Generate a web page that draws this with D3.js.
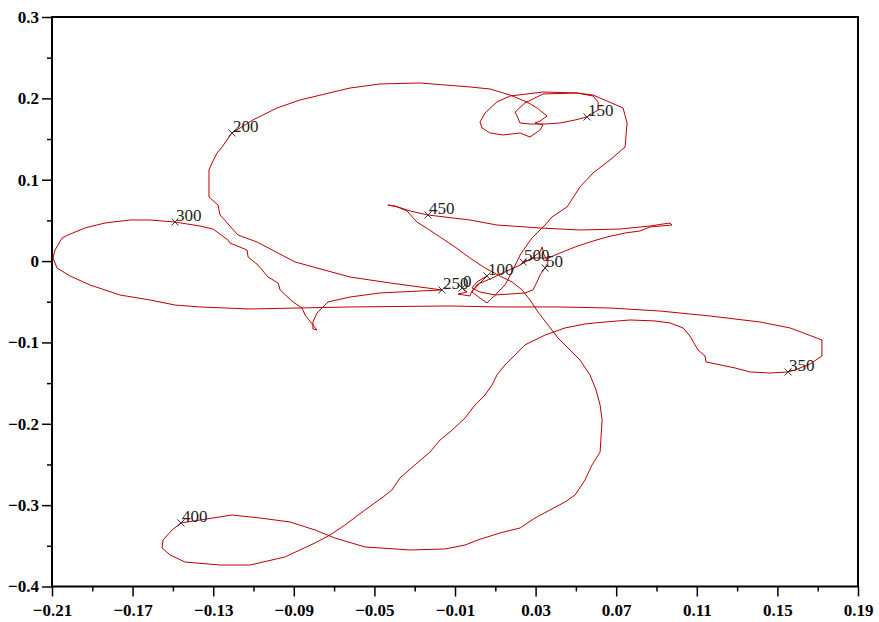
<!DOCTYPE html>
<html>
<head>
<meta charset="utf-8">
<script src="https://cdn.jsdelivr.net/npm/d3@7"></script>
<style>
  body { margin: 0; background: #fff; }
  svg { display: block; }
  .tick text { font-family: "Liberation Serif", "Times New Roman", serif; font-weight: bold; font-size: 17px; fill: #000; }
  .tick line { stroke: #000; stroke-width: 1.5; }
</style>
</head>
<body>
<div class="container"></div>
<script>
// trajectory samples, in order (x, y)
var pathX = [
  // 0 -> 50
  -0.0065,-0.0040,-0.0085,-0.0026,-0.0016,0.0014,0.0074,0.0148,0.0223,0.0282,0.0322,0.0332,0.0342,0.0362,0.0347,
  // 50 -> 100
  0.0322,0.0307,0.0287,0.0247,0.0173,0.0099,0.0024,-0.0016,0.0009,0.0059,
  // 100 -> 150
  0.0014,-0.0016,0.0024,0.0059,0.0099,0.0148,0.0183,0.0223,0.0282,0.0347,0.0381,0.0456,0.0520,0.0585,0.0669,
  0.0744,0.0754,0.0734,0.0585,0.0505,0.0337,0.0247,0.0198,0.0208,0.0223,0.0272,0.0347,0.0421,0.0496,0.0555,
  // 150 -> 200
  0.0610,0.0610,0.0585,0.0505,0.0337,0.0173,0.0108,0.0049,0.0024,0.0034,0.0074,0.0138,0.0223,0.0272,0.0322,0.0337,
  0.0297,0.0322,0.0357,0.0307,0.0257,0.0173,0.0074,-0.0026,-0.0274,-0.0472,-0.0621,-0.0869,-0.0983,-0.1103,-0.1207,
  // 200 -> 250
  -0.1256,-0.1281,-0.1306,-0.1321,-0.1321,-0.1276,-0.1266,-0.1177,-0.1083,-0.0894,-0.0621,-0.0423,-0.0274,-0.0165,
  // 250 -> 300
  -0.0274,-0.0373,-0.0472,-0.0621,-0.0730,-0.0745,-0.0785,-0.0805,-0.0805,-0.0785,-0.0805,-0.0844,-0.0859,
  -0.0904,-0.0968,-0.0978,-0.1028,-0.1078,-0.1127,-0.1132,-0.1217,-0.1227,-0.1301,-0.1366,-0.1490,
  // 300 -> 350
  -0.1614,-0.1713,-0.1837,-0.1936,-0.2021,-0.2050,-0.2085,-0.2095,-0.2075,-0.2011,-0.1911,-0.1763,-0.1614,-0.1490,-0.1366,
  -0.1117,-0.0621,-0.0125,0.0123,0.0421,0.0669,0.0917,0.1166,0.1414,0.1563,0.1721,0.1721,0.1662,0.1587,0.1553,
  // 350 -> 400
  0.1463,0.1364,0.1290,0.1146,0.1141,0.1106,0.1066,0.1032,0.0967,0.0893,0.0769,0.0644,0.0545,0.0446,0.0347,
  0.0247,0.0198,0.0148,0.0108,0.0084,0.0049,-0.0001,-0.0050,-0.0125,-0.0174,-0.0224,-0.0299,-0.0373,-0.0413,
  -0.0457,-0.0547,-0.0646,-0.0720,-0.0795,-0.0944,-0.1117,-0.1266,-0.1440,-0.1514,-0.1554,-0.1549,-0.1504,-0.1460,
  // 400 -> 450
  -0.1366,-0.1207,-0.1068,-0.0919,-0.0795,-0.0696,-0.0547,-0.0323,-0.0150,-0.0050,0.0014,0.0123,0.0223,0.0297,0.0371,
  0.0446,0.0496,0.0545,0.0580,0.0620,0.0630,0.0620,0.0600,0.0570,0.0520,0.0471,0.0411,0.0362,0.0312,0.0272,
  0.0233,0.0183,0.0123,0.0049,-0.0026,-0.0100,-0.0174,-0.0234,-0.0289,-0.0338,-0.0398,-0.0433,-0.0383,-0.0323,-0.0234,
  // 450 -> 500
  -0.0026,0.0108,0.0322,0.0520,0.0719,0.0868,0.0967,0.0977,0.0868,0.0818,0.0744,0.0654,0.0570,0.0496,0.0421,0.0362,0.0297,0.0238
];
var pathY = [
  -0.0331,-0.0380,-0.0405,-0.0429,-0.0368,-0.0282,-0.0220,-0.0134,-0.0048,0.0038,0.0112,0.0173,0.0075,-0.0011,-0.0085,
  -0.0171,-0.0257,-0.0355,-0.0392,-0.0405,-0.0417,-0.0380,-0.0331,-0.0257,-0.0183,
  -0.0294,-0.0380,-0.0454,-0.0515,-0.0417,-0.0294,-0.0134,0.0075,0.0284,0.0443,0.0542,0.0665,0.0910,0.1083,0.1242,
  0.1402,0.1697,0.1882,0.2041,0.2066,0.2054,0.1943,0.1832,0.1783,0.1697,0.1685,0.1685,0.1697,0.1734,0.1771,
  0.1857,0.1955,0.2029,0.2066,0.2078,0.2029,0.1955,0.1820,0.1709,0.1636,0.1574,0.1550,0.1574,0.1525,0.1611,0.1673,
  0.1697,0.1722,0.1783,0.1882,0.1955,0.2041,0.2115,0.2140,0.2189,0.2177,0.2127,0.1980,0.1882,0.1734,0.1574,
  0.1402,0.1328,0.1206,0.1120,0.0788,0.0689,0.0566,0.0320,0.0235,-0.0011,-0.0196,-0.0269,-0.0319,-0.0355,
  -0.0368,-0.0380,-0.0392,-0.0442,-0.0503,-0.0540,-0.0638,-0.0749,-0.0835,-0.0847,-0.0786,-0.0663,-0.0577,
  -0.0503,-0.0355,-0.0269,-0.0196,-0.0048,0.0050,0.0136,0.0222,0.0259,0.0394,0.0431,0.0480,
  0.0505,0.0505,0.0468,0.0407,0.0320,0.0284,0.0136,0.0038,-0.0085,-0.0183,-0.0294,-0.0417,-0.0478,-0.0540,-0.0564,
  -0.0589,-0.0564,-0.0552,-0.0564,-0.0564,-0.0577,-0.0614,-0.0675,-0.0749,-0.0822,-0.0970,-0.1167,-0.1265,-0.1339,-0.1363,
  -0.1376,-0.1363,-0.1314,-0.1240,-0.1167,-0.1093,-0.0921,-0.0822,-0.0761,-0.0736,-0.0724,-0.0749,-0.0773,-0.0822,-0.0909,
  -0.1031,-0.1154,-0.1277,-0.1400,-0.1523,-0.1646,-0.1769,-0.1929,-0.2101,-0.2199,-0.2347,-0.2506,-0.2666,-0.2814,
  -0.2900,-0.3060,-0.3244,-0.3367,-0.3465,-0.3637,-0.3736,-0.3736,-0.3699,-0.3613,-0.3527,-0.3428,-0.3305,-0.3219,
  -0.3183,-0.3121,-0.3158,-0.3207,-0.3305,-0.3404,-0.3514,-0.3551,-0.3539,-0.3490,-0.3428,-0.3342,-0.3281,-0.3158,-0.3060,
  -0.2961,-0.2875,-0.2691,-0.2506,-0.2347,-0.1953,-0.1769,-0.1585,-0.1400,-0.1216,-0.1093,-0.0945,-0.0786,-0.0626,-0.0478,
  -0.0355,-0.0257,-0.0183,-0.0085,0.0038,0.0173,0.0296,0.0394,0.0480,0.0616,0.0677,0.0689,0.0665,0.0616,0.0566,
  0.0505,0.0443,0.0407,0.0382,0.0394,0.0431,0.0468,0.0443,0.0419,0.0370,0.0345,0.0296,0.0235,0.0173,0.0099,0.0038,0.0038,-0.0011
];

// sample numbers marked along the path
var markLabels = ["0","50","100","150","200","250","300","350","400","450","500"];
var markX = [-0.0065,0.0347,0.0059,0.0555,-0.1207,-0.0165,-0.1490,0.1553,-0.1460,-0.0234,0.0238];
var markY = [-0.0331,-0.0085,-0.0183,0.1771,0.1574,-0.0355,0.0480,-0.1363,-0.3219,0.0566,-0.0011];

var xTicks = [-0.21,-0.17,-0.13,-0.09,-0.05,-0.01,0.03,0.07,0.11,0.15,0.19];
var xMinor = [-0.19,-0.15,-0.11,-0.07,-0.03,0.01,0.05,0.09,0.13,0.17];
var yTicks = [-0.4,-0.3,-0.2,-0.1,0,0.1,0.2,0.3];
var yMinor = [-0.35,-0.25,-0.15,-0.05,0.05,0.15,0.25];

var width = 879, height = 622;
var plotL = 52, plotR = 858, plotT = 17, plotB = 586.5;

var svg = d3.select('.container')
  .append('svg')
  .attr('width', width)
  .attr('height', height);

var x = d3.scaleLinear().domain([-0.21, 0.19]).range([plotL, plotR]);
var y = d3.scaleLinear().domain([-0.4, 0.3]).range([plotB, plotT]);

var fmt2 = d3.format('.2f');
var fmt1 = function(d) { return d === 0 ? '0' : d3.format('.1f')(d); };

// minor ticks first, no labels
svg.append('g')
  .attr('transform', 'translate(0,' + plotB + ')')
  .call(d3.axisBottom(x).tickValues(xMinor).tickSize(5).tickSizeOuter(0).tickFormat(''))
  .call(g => g.select('.domain').remove());
svg.append('g')
  .attr('transform', 'translate(' + plotL + ',0)')
  .call(d3.axisLeft(y).tickValues(yMinor).tickSize(5).tickSizeOuter(0).tickFormat(''))
  .call(g => g.select('.domain').remove());

// major ticks
svg.append('g')
  .attr('transform', 'translate(0,' + plotB + ')')
  .call(d3.axisBottom(x).tickValues(xTicks).tickSize(10).tickPadding(7).tickSizeOuter(0).tickFormat(fmt2))
  .call(g => g.select('.domain').remove());
svg.append('g')
  .attr('transform', 'translate(' + plotL + ',0)')
  .call(d3.axisLeft(y).tickValues(yTicks).tickSize(10).tickPadding(3).tickSizeOuter(0).tickFormat(fmt1))
  .call(g => g.select('.domain').remove());

// frame
svg.append('rect')
  .attr('x', plotL)
  .attr('y', plotT)
  .attr('width', plotR - plotL)
  .attr('height', plotB - plotT)
  .attr('fill', 'none')
  .attr('stroke', '#000')
  .attr('stroke-width', 2);

var pts = pathX.map(function(d, i) { return [d, pathY[i]]; });

var line = d3.line()
  .x(d => x(d[0]))
  .y(d => y(d[1]));

svg.append('path')
  .datum(pts)
  .attr('d', line)
  .attr('fill', 'none')
  .attr('stroke', '#c00000')
  .attr('stroke-width', 1);

var marks = svg.append('g');
markLabels.forEach(function(lab, i) {
  var cx = x(markX[i]), cy = y(markY[i]);
  var s = 3.5;
  marks.append('path')
    .attr('d', 'M' + (cx - s) + ',' + (cy - s) + 'L' + (cx + s) + ',' + (cy + s) +
               'M' + (cx - s) + ',' + (cy + s) + 'L' + (cx + s) + ',' + (cy - s))
    .attr('stroke', '#333')
    .attr('stroke-width', 1);
  marks.append('text')
    .attr('x', cx + 1)
    .attr('y', cy - 1)
    .attr('font-family', '"Liberation Serif", "Times New Roman", serif')
    .attr('font-size', 17)
    .attr('fill', '#222')
    .text(lab);
});
</script>
</body>
</html>
